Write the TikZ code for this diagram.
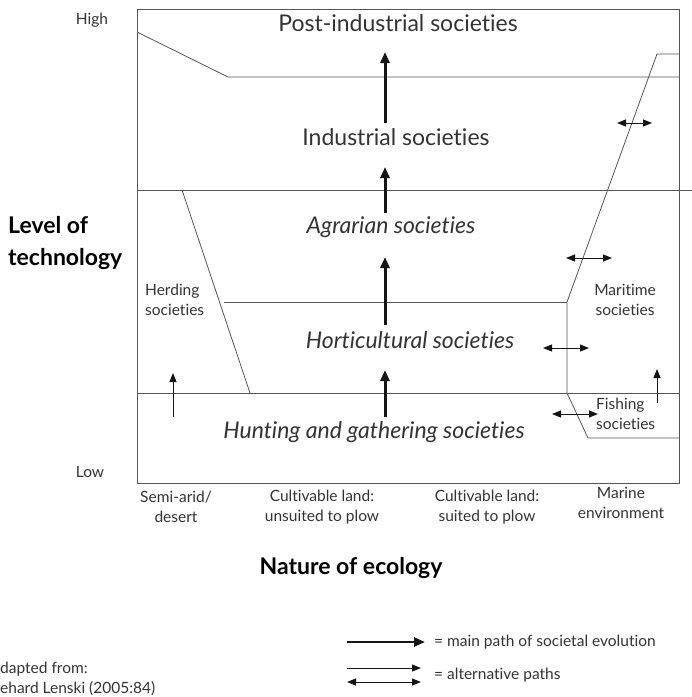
\documentclass[tikz,border=0pt]{standalone}
\usepackage{fontspec}
\setmainfont{Lato}[Ligatures={NoCommon,NoContextual}]
\usetikzlibrary{arrows.meta}
\definecolor{ink}{HTML}{333333}
\definecolor{rule}{HTML}{555555}
\definecolor{arrowink}{HTML}{151515}
\begin{document}
\begin{tikzpicture}[x=1pt,y=-1pt,
  frame/.style={draw=rule,line width=0.9pt},
  divider/.style={draw=rule,line width=0.8pt},
  mainpath/.style={draw=arrowink,line width=3pt,-{Triangle[length=11pt,width=9pt]}},
  altpath/.style={draw=arrowink,line width=1pt,{Triangle[length=9pt,width=7pt]}-{Triangle[length=9pt,width=7pt]}},
  altone/.style={draw=arrowink,line width=1pt,-{Triangle[length=9pt,width=7pt]}},
  bigtxt/.style={text=ink,font=\fontsize{23}{26}\selectfont,inner sep=0pt},
  bigital/.style={bigtxt,font=\fontsize{23}{26}\selectfont\itshape},
  smalltxt/.style={text=ink,font=\fontsize{15.5}{20.5}\selectfont,inner sep=0pt,align=center},
  axistxt/.style={text=black,font=\fontsize{23}{32}\selectfont\bfseries,inner sep=0pt}]
\useasboundingbox (0,0) rectangle (692,697);

% outer frame of the chart
\draw[frame] (137,9) rectangle (679,483);

% boundaries between societal types
\draw[divider] (137,190) -- (692,190);
\draw[divider] (137,393) -- (679,393);
\draw[divider] (137,32) -- (228,77) -- (679,77);
\draw[divider] (224,302) -- (567,302);
\draw[divider] (182,190) -- (250,393);
\draw[divider] (679,54) -- (657,54) -- (567,302) -- (567,393) -- (588,438) -- (679,438);

% axis end labels
\node[smalltxt] (high) at (92,20) {High};
\node[smalltxt] (low) at (90,472) {Low};

% society labels
\node[bigtxt] (post) at (398,23) {Post-industrial societies};
\node[bigtxt] (ind) at (396,137) {Industrial societies};
\node[bigital] (agr) at (391,227) {Agrarian societies};
\node[bigital] (hort) at (410,340) {Horticultural societies};
\node[bigital] (hunt) at (374,432) {Hunting and gathering societies};
\node[smalltxt,align=left,anchor=west] (herd) at (145,300) {Herding\\societies};
\node[smalltxt] (mari) at (625,300) {Maritime\\societies};
\node[smalltxt,align=left,anchor=west] (fish) at (596,414) {Fishing\\societies};

% main path of evolution
\coordinate (m1a) at (385,123); \coordinate (m1b) at (385,52);
\coordinate (m2a) at (385,213); \coordinate (m2b) at (385,167);
\coordinate (m3a) at (385,325); \coordinate (m3b) at (385,257);
\coordinate (m4a) at (385,417); \coordinate (m4b) at (385,370);
\draw[mainpath] (m1a) -- (m1b);
\draw[mainpath] (m2a) -- (m2b);
\draw[mainpath] (m3a) -- (m3b);
\draw[mainpath] (m4a) -- (m4b);

% alternative paths
\coordinate (a1a) at (617,123); \coordinate (a1b) at (652,123);
\coordinate (a2a) at (566,258); \coordinate (a2b) at (612,258);
\coordinate (a3a) at (543,348); \coordinate (a3b) at (589,348);
\coordinate (a4a) at (552,414); \coordinate (a4b) at (598,414);
\draw[altpath] (a1a) -- (a1b);
\draw[altpath] (a2a) -- (a2b);
\draw[altpath] (a3a) -- (a3b);
\draw[altpath] (a4a) -- (a4b);
\coordinate (h1a) at (173,417); \coordinate (h1b) at (173,373);
\coordinate (f1a) at (657,403); \coordinate (f1b) at (657,369);
\draw[altone] (h1a) -- (h1b);
\draw[altone] (f1a) -- (f1b);

% axis titles
\node[axistxt,anchor=west,align=left] (lvl) at (8,243) {Level of\\technology};
\node[axistxt] (eco) at (351,568) {Nature of ecology};

% ecology categories
\node[smalltxt] (c1) at (176,507) {Semi-arid/\\desert};
\node[smalltxt] (c2) at (322,507) {Cultivable land:\\unsuited to plow};
\node[smalltxt] (c3) at (487,507) {Cultivable land:\\suited to plow};
\node[smalltxt] (c4) at (621,503) {Marine\\environment};

% legend
\coordinate (k1a) at (347,642); \coordinate (k1b) at (425,642);
\draw[mainpath,line width=2.6pt] (k1a) -- (k1b);
\node[smalltxt,anchor=west] (k1t) at (434,642) {= main path of societal evolution};
\coordinate (k2a) at (347,668); \coordinate (k2b) at (421,668);
\coordinate (k3a) at (347,682); \coordinate (k3b) at (421,682);
\draw[altone] (k2a) -- (k2b);
\draw[altpath] (k3a) -- (k3b);
\node[smalltxt,anchor=west] (k2t) at (434,675) {= alternative paths};

% source note
\node[smalltxt,anchor=west,align=left] (src) at (0,679) {dapted from:\\ehard Lenski (2005:84)};
\end{tikzpicture}
\end{document}
